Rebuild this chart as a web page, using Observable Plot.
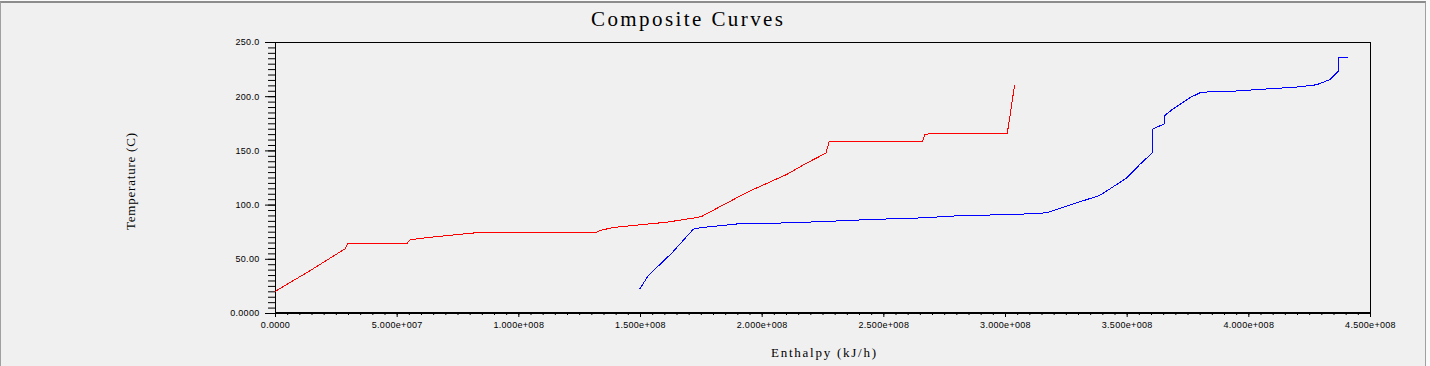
<!DOCTYPE html>
<html>
<head>
<meta charset="utf-8">
<script src="https://cdn.jsdelivr.net/npm/d3@7"></script>
<script src="https://cdn.jsdelivr.net/npm/@observablehq/plot@0.6"></script>
<style>
  html, body { margin: 0; padding: 0; background: #fafafa; width: 1430px; height: 366px; overflow: hidden; }
  #wrap { position: absolute; left: 0; top: 1px; width: 1426px; height: 365px; background: #f0f0f0;
          border-top: 2px solid #8c8c8c; border-left: 1px solid #a0a0a0; border-right: 1px solid #a0a0a0; box-sizing: border-box; }
  #chart { position: absolute; left: 0; top: 0; }
  #chart svg g[aria-label="y-axis tick label"] text, #chart svg g[aria-label="x-axis tick label"] text { letter-spacing: 0.3px; }
</style>
</head>
<body>
<div id="wrap"></div>
<div id="chart"></div>
<script>
// Hot composite curve (red)
const hotH = [0, 1.417e7, 2.86e7, 2.97e7, 5.39e7, 5.53e7, 6.14e7, 8.2e7, 1.313e8, 1.333e8, 1.388e8, 1.47e8, 1.607e8, 1.717e8, 1.751e8, 1.936e8, 2.10e8, 2.182e8, 2.262e8, 2.275e8, 2.659e8, 2.668e8, 2.689e8, 3.007e8, 3.018e8, 3.037e8];
const hotT = [20.6, 39.5, 59.7, 64.3, 64.3, 68.0, 69.8, 74.4, 74.4, 76.6, 79.3, 81.2, 84.2, 88.0, 89.5, 111.6, 128.2, 138.7, 147.9, 158.4, 158.4, 165.1, 165.8, 165.8, 181.7, 210.3];

// Cold composite curve (blue)
const coldH = [1.4975e8, 1.532e8, 1.628e8, 1.717e8, 1.751e8, 1.901e8, 2.052e8, 2.23e8, 2.443e8, 2.668e8, 2.799e8, 3.018e8, 3.1e8, 3.168e8, 3.237e8, 3.387e8, 3.497e8, 3.552e8, 3.606e8, 3.606e8, 3.655e8, 3.655e8, 3.689e8, 3.757e8, 3.805e8, 3.915e8, 4.024e8, 4.209e8, 4.278e8, 4.332e8, 4.367e8, 4.367e8, 4.405e8];
const coldT = [22.8, 35.0, 55.6, 77.8, 79.3, 82.7, 83.3, 84.6, 86.7, 88.3, 90.1, 91.3, 92.0, 92.9, 98.1, 108.9, 124.8, 137.5, 148.8, 170.4, 175.0, 182.7, 188.8, 199.0, 204.2, 204.8, 206.4, 209.1, 211.0, 215.6, 223.5, 235.9, 235.9];

// Axis ticks
const xTickValues = [0, 5e7, 1e8, 1.5e8, 2e8, 2.5e8, 3e8, 3.5e8, 4e8, 4.5e8];
const xTickLabels = ["0.0000", "5.000e+007", "1.000e+008", "1.500e+008", "2.000e+008", "2.500e+008", "3.000e+008", "3.500e+008", "4.000e+008", "4.500e+008"];
const yTickValues = [0, 50, 100, 150, 200, 250];
const yTickLabels = ["0.0000", "50.00", "100.0", "150.0", "200.0", "250.0"];
const xMinorStep = 5e6;
const yMinorStep = 5;

const titleText = "Composite Curves";
const xLabel = "Enthalpy (kJ/h)";
const yLabel = "Temperature (C)";

const hot = hotH.map((h, i) => ({h, t: hotT[i]}));
const cold = coldH.map((h, i) => ({h, t: coldT[i]}));
const xMinor = d3.range(0, 4.5e8 + 1, xMinorStep);
const yMinor = d3.range(0, 250 + 0.1, yMinorStep);

const plot = Plot.plot({
  width: 1430,
  height: 366,
  marginLeft: 275,
  marginRight: 60,
  marginTop: 42,
  marginBottom: 53,
  x: {domain: [0, 4.5e8]},
  y: {domain: [0, 250]},
  style: {background: "transparent", fontFamily: "'Liberation Sans', sans-serif", fontSize: "9px", color: "black"},
  marks: [
    Plot.frame({stroke: "black", strokeWidth: 1}),
    Plot.axisY({ticks: yMinor, tickSize: 7, text: null, label: null, stroke: "black"}),
    Plot.axisY({ticks: yTickValues, tickSize: 10, tickPadding: 6, label: null, stroke: "black", fill: "black",
                tickFormat: d => yTickLabels[yTickValues.indexOf(d)]}),
    Plot.axisX({ticks: xMinor, tickSize: 2, text: null, label: null, stroke: "black"}),
    Plot.axisX({ticks: xTickValues, tickSize: 4, tickPadding: 4, label: null, stroke: "black", fill: "black",
                tickFormat: d => xTickLabels[xTickValues.indexOf(d)]}),
    Plot.ruleY([0], {stroke: "black", strokeWidth: 2, dy: -0.5}),
    Plot.line(hot, {x: "h", y: "t", stroke: "#ff0000", strokeWidth: 1, shapeRendering: "crispEdges"}),
    Plot.line(cold, {x: "h", y: "t", stroke: "#0000ff", strokeWidth: 1, shapeRendering: "crispEdges"})
  ]
});

document.getElementById("chart").appendChild(plot);

const svg = d3.select(plot);
svg.append("text")
  .attr("x", 687).attr("y", 26)
  .attr("text-anchor", "middle")
  .attr("textLength", 192).attr("lengthAdjust", "spacing")
  .style("font-family", "'Liberation Serif', serif").style("font-size", "21px").style("fill", "black")
  .text(titleText);
svg.append("text")
  .attr("x", 771).attr("y", 356.5)
  .attr("text-anchor", "start")
  .attr("textLength", 105).attr("lengthAdjust", "spacing")
  .style("font-family", "'Liberation Serif', serif").style("font-size", "13px").style("fill", "black")
  .text(xLabel);
svg.append("text")
  .attr("transform", "translate(135,181.5) rotate(-90)")
  .attr("text-anchor", "middle")
  .attr("textLength", 97).attr("lengthAdjust", "spacing")
  .style("font-family", "'Liberation Serif', serif").style("font-size", "13px").style("fill", "black")
  .text(yLabel);
</script>
</body>
</html>
